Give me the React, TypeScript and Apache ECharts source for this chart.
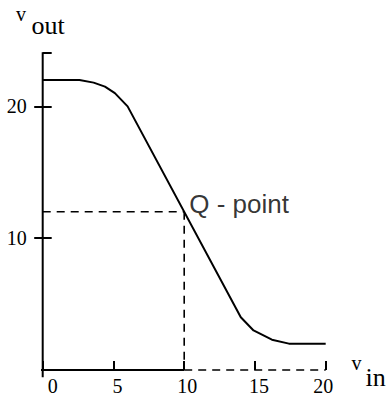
import React, { useEffect, useRef } from "react";
import * as echarts from "echarts";

// Transfer characteristic: output voltage vs. input voltage
const vin = [0, 2.6, 3.6, 4.4, 5.1, 6, 14, 14.9, 16.2, 17.4, 20];
const vout = [22, 22, 21.8, 21.5, 21, 20, 4, 3, 2.3, 2, 2];

// Operating (Q) point
const qPoint = [10, 12];
const qLabel = "Q - point";

// Axis ranges and ticks
const xMin = 0;
const xMax = 20;
const xTickStep = 5;
const yMin = 0;
const yMax = 24.1;
const yTickStep = 10;
// Where the drawn axis lines overshoot past the origin
const xAxisOvershoot = -0.62;
const yAxisOvershoot = -0.55;

const SERIF = "'Liberation Serif', 'Times New Roman', serif";
const SANS = "'Liberation Sans', Arial, sans-serif";

const xLabelRich: Record<string, number[]> = {
  "0": [0, 0, 0, 20],
  "5": [0, 0, 0, 8],
  "10": [0, 0, 0, 6],
  "15": [0, 0, 0, 8],
  "20": [0, 5, 0, 0],
};

export default function App() {
  const ref = useRef<HTMLDivElement>(null);

  useEffect(() => {
    if (!ref.current) return;
    const chart = echarts.init(ref.current, undefined, { renderer: "svg" });

    const curve = vin.map((x, i) => [x, vout[i]]);
    const rich: Record<string, any> = {};
    Object.keys(xLabelRich).forEach((k) => {
      rich["t" + k] = {
        padding: xLabelRich[k],
        fontFamily: SERIF,
        fontSize: 20,
        color: "#000",
      };
    });

    const plainLine = (data: number[][], dashed: boolean) => ({
      type: "line",
      data,
      clip: false,
      symbol: "none",
      silent: true,
      lineStyle: {
        color: "#000",
        width: dashed ? 1.6 : 2,
        type: dashed ? [8, 6] : "solid",
      },
    });

    chart.setOption({
      animation: false,
      backgroundColor: "#fff",
      grid: { left: 42.7, right: 63.3, top: 52.3, bottom: 24.3 },
      xAxis: {
        type: "value",
        min: xMin,
        max: xMax,
        interval: xTickStep,
        axisLine: { show: false, onZero: false },
        splitLine: { show: false },
        axisTick: {
          show: true,
          inside: true,
          length: 9,
          lineStyle: { color: "#000", width: 2 },
        },
        axisLabel: {
          margin: 6,
          color: "#000",
          fontFamily: SERIF,
          fontSize: 20,
          formatter: (v: number) => `{t${v}|${v}}`,
          rich,
        },
      },
      yAxis: [
        {
          type: "value",
          min: yMin,
          max: yMax,
          interval: yTickStep,
          axisLine: { show: false },
          splitLine: { show: false },
          axisTick: {
            show: true,
            length: 8.5,
            lineStyle: { color: "#000", width: 2 },
          },
          axisLabel: {
            showMinLabel: false,
            showMaxLabel: false,
            margin: 16,
            color: "#000",
            fontFamily: SERIF,
            fontSize: 20,
          },
        },
        {
          type: "value",
          min: yMin,
          max: yMax,
          interval: yTickStep,
          position: "left",
          axisLine: { show: false },
          splitLine: { show: false },
          axisTick: {
            show: true,
            inside: true,
            length: 9,
            lineStyle: { color: "#000", width: 2 },
          },
          axisLabel: { show: false },
        },
      ],
      series: [
        // axis lines
        plainLine([[0, yAxisOvershoot], [0, yMax]], false),
        plainLine([[xAxisOvershoot, yMin], [qPoint[0], yMin]], false),
        plainLine([[qPoint[0], yMin], [xMax, yMin]], true),
        // guides to the Q point
        plainLine([[xMin, qPoint[1]], [qPoint[0], qPoint[1]]], true),
        plainLine([[qPoint[0], qPoint[1]], [qPoint[0], yMin]], true),
        {
          type: "line",
          data: curve,
          symbol: "none",
          clip: false,
          silent: true,
          lineStyle: { color: "#000", width: 2 },
        },
        {
          type: "scatter",
          data: [qPoint],
          symbolSize: 0,
          silent: true,
          label: {
            show: true,
            position: "right",
            distance: 5,
            offset: [0, -8],
            formatter: qLabel,
            color: "#000",
            fontFamily: SANS,
            fontSize: 26,
          },
        },
      ],
      graphic: [
        {
          type: "text",
          left: 16,
          top: 3.8,
          style: { text: "v", font: `20px ${SERIF}`, fill: "#000" },
        },
        {
          type: "text",
          left: 31.5,
          top: 12.1,
          style: { text: "out", font: `26px ${SERIF}`, fill: "#000" },
        },
        {
          type: "text",
          left: 351.5,
          top: 352.8,
          style: { text: "v", font: `20px ${SERIF}`, fill: "#000" },
        },
        {
          type: "text",
          left: 365.5,
          top: 364.1,
          style: { text: "in", font: `26px ${SERIF}`, fill: "#000" },
        },
      ],
    });

    return () => chart.dispose();
  }, []);

  return (
    <div
      ref={ref}
      style={{ position: "absolute", left: 0, top: 0, width: 389, height: 396 }}
    />
  );
}
